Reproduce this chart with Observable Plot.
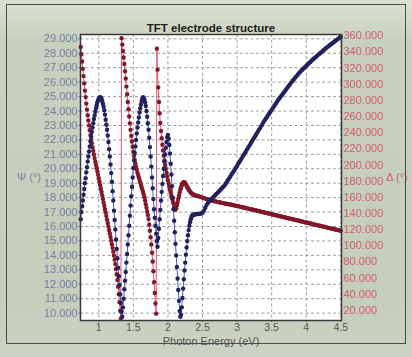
<!DOCTYPE html>
<html>
<head>
<meta charset="utf-8">
<script src="https://cdn.jsdelivr.net/npm/d3@7"></script>
<script src="https://cdn.jsdelivr.net/npm/@observablehq/plot@0.6"></script>
<style>
  html, body { margin: 0; padding: 0; background: #d2d8ca; }
  #wrap {
    position: relative; width: 412px; height: 357px; overflow: hidden;
    background: linear-gradient(#dce2d3 0px, #d6dccd 14px, #c8d0bf 40px, #c5cdbb 300px, #ccd3c4 357px);
  }
  #chart { position: absolute; left: 0; top: 0; }
  #border {
    position: absolute; left: 6px; top: 4px; width: 398px; height: 338px;
    border: 1px solid #4c4c4c; pointer-events: none;
  }
</style>
</head>
<body>
<div id="wrap"><div id="chart"></div><div id="border"></div></div>
<script>
// Photon energy (eV) of each measured point
const energy = [
  0.74, 0.75, 0.76, 0.77, 0.78, 0.79,
  0.80, 0.81, 0.82, 0.83, 0.84, 0.85, 0.86, 0.87, 0.88, 0.89,
  0.90, 0.91, 0.92, 0.93, 0.94, 0.95, 0.96, 0.97, 0.98, 0.99,
  1.00, 1.01, 1.02, 1.03, 1.04, 1.05, 1.06, 1.07, 1.08, 1.09,
  1.10, 1.11, 1.12, 1.13, 1.14, 1.15, 1.16, 1.17, 1.18, 1.19,
  1.20, 1.21, 1.22, 1.23, 1.24, 1.25, 1.26, 1.27, 1.28, 1.29,
  1.30, 1.31, 1.32, 1.33, 1.34, 1.35, 1.36, 1.37, 1.38, 1.39,
  1.40, 1.41, 1.42, 1.43, 1.44, 1.45, 1.46, 1.47, 1.48, 1.49,
  1.50, 1.51, 1.52, 1.53, 1.54, 1.55, 1.56, 1.57, 1.58, 1.59,
  1.60, 1.61, 1.62, 1.63, 1.64, 1.65, 1.66, 1.67, 1.68, 1.69,
  1.70, 1.71, 1.72, 1.73, 1.74, 1.75, 1.76, 1.77, 1.78, 1.79,
  1.80, 1.81, 1.82, 1.83, 1.84, 1.85, 1.86, 1.87, 1.88, 1.89,
  1.90, 1.91, 1.92, 1.93, 1.94, 1.95, 1.96, 1.97, 1.98, 1.99,
  2.00, 2.01, 2.02, 2.03, 2.04, 2.05, 2.06, 2.07, 2.08, 2.09,
  2.10, 2.11, 2.12, 2.13, 2.14, 2.15, 2.16, 2.17, 2.18, 2.19,
  2.20, 2.21, 2.22, 2.23, 2.24, 2.25, 2.26, 2.27, 2.28, 2.29,
  2.30, 2.31, 2.32, 2.33, 2.34, 2.35, 2.36, 2.37, 2.38, 2.39,
  2.40, 2.42, 2.44, 2.46, 2.48, 2.50, 2.52, 2.54, 2.56, 2.58,
  2.60, 2.62, 2.64, 2.66, 2.68, 2.70, 2.72, 2.74, 2.76, 2.78,
  2.80, 2.82, 2.84, 2.86, 2.88, 2.90, 2.92, 2.94, 2.96, 2.98,
  3.00, 3.02, 3.04, 3.06, 3.08, 3.10, 3.12, 3.14, 3.16, 3.18,
  3.20, 3.22, 3.24, 3.26, 3.28, 3.30, 3.32, 3.34, 3.36, 3.38,
  3.40, 3.42, 3.44, 3.46, 3.48, 3.50, 3.52, 3.54, 3.56, 3.58,
  3.60, 3.62, 3.64, 3.66, 3.68, 3.70, 3.72, 3.74, 3.76, 3.78,
  3.80, 3.82, 3.84, 3.86, 3.88, 3.90, 3.92, 3.94, 3.96, 3.98,
  4.00, 4.02, 4.04, 4.06, 4.08, 4.10, 4.12, 4.14, 4.16, 4.18,
  4.20, 4.22, 4.24, 4.26, 4.28, 4.30, 4.32, 4.34, 4.36, 4.38,
  4.40, 4.42, 4.44, 4.46, 4.48, 4.50
];

// Ellipsometric angle Psi (degrees)
const psi = [
  16.5, 17.0, 17.4, 17.8, 18.2, 18.6,
  19.0, 19.35, 19.75, 20.1, 20.5, 20.85, 21.2, 21.55, 21.9, 22.25,
  22.55, 22.85, 23.15, 23.45, 23.7, 23.95, 24.2, 24.4, 24.6, 24.75,
  24.85, 24.92, 24.96, 24.93, 24.85, 24.7, 24.5, 24.3, 24.05, 23.75,
  23.4, 23.05, 22.7, 22.3, 21.85, 21.35, 20.85, 20.3, 19.7, 19.1,
  18.45, 17.8, 17.1, 16.45, 15.8, 15.1, 14.45, 13.8, 13.15, 12.55,
  11.95, 11.3, 10.7, 10.1, 9.75, 10.4, 11.0, 11.65, 12.25, 12.85,
  13.5, 14.1, 14.75, 15.4, 16.05, 16.75, 17.45, 18.1, 18.75, 19.4,
  20.05, 20.6, 21.1, 21.55, 22.0, 22.45, 22.85, 23.2, 23.55, 23.9,
  24.2, 24.45, 24.7, 24.85, 24.95, 24.9, 24.8, 24.6, 24.35, 24.0,
  23.6, 23.15, 22.7, 22.15, 21.5, 20.85, 20.15, 19.4, 18.65, 17.9,
  17.2, 16.6, 16.05, 15.5, 15.0, 14.6, 15.2, 15.85, 16.5, 17.15,
  17.8, 18.4, 18.95, 19.5, 20.0, 20.5, 21.0, 21.45, 21.85, 22.2,
  22.35, 22.1, 21.65, 21.05, 20.35, 19.6, 18.8, 18.0, 17.2, 16.4,
  15.6, 14.8, 14.0, 13.2, 12.4, 11.6, 10.85, 10.15, 9.75, 9.9,
  10.4, 11.05, 11.7, 12.35, 12.95, 13.5, 14.05, 14.55, 15.0, 15.4,
  15.75, 16.05, 16.3, 16.5, 16.65, 16.75, 16.8, 16.82, 16.83, 16.84,
  16.85, 16.86, 16.87, 16.88, 16.9, 16.95, 17.1, 17.3, 17.5, 17.65,
  17.75, 17.85, 17.95, 18.05, 18.15, 18.25, 18.35, 18.45, 18.55, 18.65,
  18.75, 18.85, 19.0, 19.15, 19.3, 19.45, 19.6, 19.75, 19.9, 20.05,
  20.2, 20.36, 20.52, 20.67, 20.83, 20.99, 21.15, 21.31, 21.46, 21.62,
  21.78, 21.94, 22.1, 22.25, 22.41, 22.57, 22.73, 22.89, 23.04, 23.2,
  23.36, 23.5, 23.65, 23.79, 23.94, 24.08, 24.22, 24.37, 24.51, 24.66,
  24.8, 24.93, 25.06, 25.18, 25.31, 25.44, 25.57, 25.7, 25.82, 25.95,
  26.08, 26.19, 26.31, 26.42, 26.53, 26.65, 26.75, 26.84, 26.94, 27.03,
  27.12, 27.22, 27.31, 27.4, 27.5, 27.59, 27.67, 27.75, 27.84, 27.92,
  28.0, 28.08, 28.16, 28.25, 28.33, 28.41, 28.48, 28.56, 28.63, 28.7,
  28.78, 28.85, 28.93, 29.0, 29.07, 29.15
];

// Ellipsometric phase Delta (degrees), wrapped to 0-360
const delta = [
  346, 337, 328, 319, 310, 301,
  292, 284, 276, 268.5, 261.5, 255, 249, 243, 237, 232,
  227, 222, 217.5, 213, 208.5, 204, 200, 196, 192, 187.8,
  183.5, 179.2, 175, 170.7, 166.5, 162.2, 158, 153.7, 149.5, 145.2,
  141, 136.7, 132.4, 128.1, 123.8, 119.5, 115.2, 110.8, 106.4, 102,
  97.4, 92.8, 88, 82.8, 77.3, 71.3, 64.8, 57.5, 49.3, 40,
  30, 19.5, 10, 357, 349, 341, 333, 325, 316, 307,
  297, 287.5, 278, 269, 260, 251.5, 243.5, 236, 229, 222.5,
  216.5, 211, 206, 201.5, 197.5, 194, 190.5, 187.5, 184.5, 181.5,
  178.5, 175.5, 172.5, 169.5, 166.5, 163.5, 160, 156, 151.5, 147,
  142.5, 138, 133, 126, 118.5, 110.5, 101.5, 91.5, 80.5, 68.5,
  55, 41.5, 28.5, 16, 344, 318, 296, 278, 264, 252,
  242, 233, 225, 218, 211.5, 205.5, 200, 195, 190, 185.5,
  181, 177, 173, 169, 165.5, 162, 158.5, 155.5, 152.5, 149.5,
  146.5, 144.5, 146.5, 150, 154, 158, 162, 166, 169.5, 172.5,
  175, 176.8, 178, 178.6, 178.5, 177.5, 176, 174.3, 172.6, 171,
  169.6, 168.3, 167.1, 166.1, 165.2, 164.4, 163.8, 163.3, 162.9, 162.6,
  162.3, 161.9, 161.4, 160.8, 160.2, 159.6, 159.0, 158.4, 157.8, 157.3,
  156.8, 156.3, 155.9, 155.5, 155.1, 154.7, 154.3, 153.9, 153.5, 153.1,
  152.8, 152.4, 152.0, 151.7, 151.4, 151.0, 150.7, 150.3, 150.0, 149.6,
  149.3, 148.9, 148.5, 148.1, 147.7, 147.3, 146.8, 146.4, 146.0, 145.6,
  145.2, 144.8, 144.4, 144.0, 143.6, 143.2, 142.7, 142.3, 141.9, 141.5,
  141.1, 140.7, 140.3, 139.9, 139.5, 139.1, 138.6, 138.2, 137.8, 137.4,
  137.0, 136.6, 136.2, 135.8, 135.4, 135.0, 134.5, 134.1, 133.7, 133.3,
  132.9, 132.5, 132.1, 131.7, 131.3, 130.9, 130.4, 130.0, 129.6, 129.2,
  128.8, 128.4, 128.0, 127.6, 127.2, 126.8, 126.3, 125.9, 125.5, 125.1,
  124.7, 124.3, 123.9, 123.5, 123.1, 122.7, 122.2, 121.8, 121.4, 121.0,
  120.6, 120.2, 119.8, 119.4, 119.0, 118.6
];

// Axis ticks
const xTicks = [1, 1.5, 2, 2.5, 3, 3.5, 4, 4.5];
const psiTicks = [10, 11, 12, 13, 14, 15, 16, 17, 18, 19, 20, 21, 22, 23, 24, 25, 26, 27, 28, 29];
const deltaTicks = [20, 40, 60, 80, 100, 120, 140, 160, 180, 200, 220, 240, 260, 280, 300, 320, 340, 360];

const rows = energy.map((e, i) => ({energy: e, psi: psi[i], delta: delta[i]}));

// Delta shares the vertical scale with Psi through a linear mapping
const psiDomain = [9.49, 29.3];
const deltaDomain = [7.5, 361.5];
const deltaToPsi = d3.scaleLinear(deltaDomain, psiDomain);

const psiColor = "#7880a4";
const deltaColor = "#d2606e";
const fmt = d3.format(".3f");
const grid = {stroke: "#9c9c9c", strokeOpacity: 1, strokeWidth: 1, strokeDasharray: "3,2.5"};

const chart = Plot.plot({
  width: 412,
  height: 357,
  marginLeft: 80,
  marginRight: 71,
  marginTop: 34,
  marginBottom: 37,
  style: {background: "transparent", fontFamily: "'Liberation Sans', Arial, sans-serif", fontSize: "11px", overflow: "visible"},
  x: {domain: [0.736, 4.51]},
  y: {domain: psiDomain},
  marks: [
    Plot.frame({fill: "#ffffff"}),
    Plot.gridX(xTicks, grid),
    Plot.gridY(psiTicks, grid),
    Plot.line(rows, {x: "energy", y: d => deltaToPsi(d.delta), stroke: "#e4546f", strokeWidth: 1}),
    Plot.line(rows, {x: "energy", y: "psi", stroke: "#4c5ab8", strokeWidth: 1}),
    Plot.dot(rows, {x: "energy", y: d => deltaToPsi(d.delta), r: 2.2, fill: "#82172a"}),
    Plot.dot(rows, {x: "energy", y: "psi", r: 2.2, fill: "#22215e"}),
    Plot.axisY(psiTicks, {anchor: "left", tickFormat: fmt, tickSize: 2, tickPadding: 1, color: psiColor, label: null}),
    Plot.axisY(deltaTicks.map(deltaToPsi), {
      anchor: "right", tickFormat: v => fmt(Math.round(deltaToPsi.invert(v))),
      tickSize: 0, tickPadding: 2, color: deltaColor, label: null
    }),
    Plot.axisX(xTicks, {tickFormat: d => String(d), tickSize: 2, tickPadding: 1, fontSize: 10.5, color: "#555555", label: null}),
    Plot.frame({stroke: "#3a3a3a", strokeWidth: 1.5}),
    Plot.text(["TFT electrode structure"], {frameAnchor: "top", dy: -11, fontSize: 11.5, fontWeight: "bold", fill: "#1c1c1c"}),
    Plot.text(["Ψ (°)"], {frameAnchor: "left", textAnchor: "middle", dx: -51.5, fill: psiColor, fontSize: 11}),
    Plot.text(["Δ (°)"], {frameAnchor: "right", textAnchor: "middle", dx: 55.5, fill: deltaColor, fontSize: 11}),
    Plot.text(["Photon Energy (eV)"], {frameAnchor: "bottom", dy: 24, fill: "#555555", fontSize: 11})
  ]
});

document.getElementById("chart").appendChild(chart);
</script>
</body>
</html>
